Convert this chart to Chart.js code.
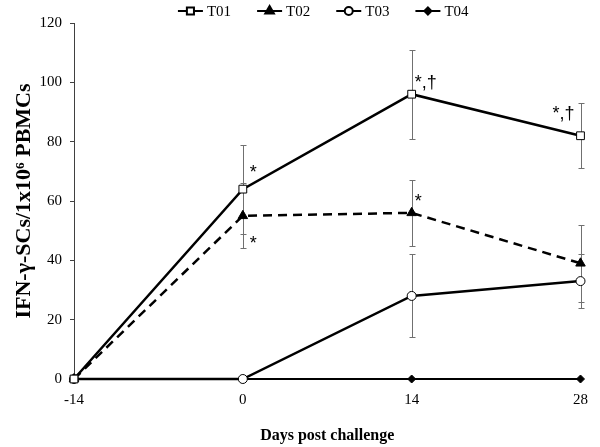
<!DOCTYPE html>
<html>
<head>
<meta charset="utf-8">
<script src="https://cdn.jsdelivr.net/npm/chart.js@4/dist/chart.umd.min.js"></script>
<style>
  html, body { margin: 0; padding: 0; background: #fff; }
  #wrap { width: 600px; height: 447px; }
</style>
</head>
<body>
<div id="wrap"><canvas id="chart"></canvas></div>
<script>
'use strict';

// Days post challenge
const days = [-14, 0, 14, 28];
const dayTicks = [-14, 0, 14, 28];

// IFN-gamma SCs per 1x10^6 PBMCs (means)
const t01 = [0, 64, 96, 82];
const t02 = [0, 55, 56, 39];
const t03 = [0, 0, 28, 33];
const t04 = [0, 0, 0, 0];

// Error bars (+/-), 0 = no bar
const t01Err = [0, 15, 15, 11];
const t02Err = [0, 11, 11, 13];
const t03Err = [0, 0, 14, 9];
const t04Err = [0, 0, 0, 0];

// Significance marks: which series / which day / text / where
const markSeries = [0, 1, 0, 1, 0];
const markDays = [0, 0, 14, 14, 28];
const markText = ['*', '*', '*,\u2020', '*', '*,\u2020'];
const markPlace = ['above', 'below', 'beside', 'beside', 'left'];

const serif = '"Liberation Serif", "Times New Roman", serif';
const sans = '"Liberation Sans", Arial, sans-serif';

function toPoints(values) {
    return values.map((v, i) => ({x: days[i], y: v}));
}

// grey error bars, drawn under the lines
const errorBarPlugin = {
    id: 'errorBars',
    beforeDatasetsDraw(chart) {
        const {ctx, scales: {x, y}} = chart;
        ctx.save();
        ctx.strokeStyle = '#707070';
        ctx.lineWidth = 1;
        chart.data.datasets.forEach((ds) => {
            ds.errors.forEach((e, i) => {
                if (!e) return;
                const px = Math.round(x.getPixelForValue(ds.data[i].x)) + 0.5;
                const top = Math.round(y.getPixelForValue(ds.data[i].y + e)) + 0.5;
                const bot = Math.round(y.getPixelForValue(ds.data[i].y - e)) + 0.5;
                ctx.beginPath();
                ctx.moveTo(px, top); ctx.lineTo(px, bot);
                ctx.moveTo(px - 3, top); ctx.lineTo(px + 3, top);
                ctx.moveTo(px - 3, bot); ctx.lineTo(px + 3, bot);
                ctx.stroke();
            });
        });
        ctx.restore();
    }
};

// the * and dagger marks next to points
const markPlugin = {
    id: 'marks',
    afterDatasetsDraw(chart) {
        const {ctx, scales: {x, y}} = chart;
        const offsets = {
            above: {dx: 7, dy: -11, align: 'left'},
            below: {dx: 7, dy: 33, align: 'left'},
            beside: {dx: 3, dy: -6, align: 'left'},
            left: {dx: -6, dy: -17, align: 'right'}
        };
        ctx.save();
        ctx.fillStyle = '#000';
        ctx.font = '18px ' + sans;
        ctx.textBaseline = 'alphabetic';
        markText.forEach((txt, i) => {
            const ds = chart.data.datasets[markSeries[i]];
            const idx = days.indexOf(markDays[i]);
            const o = offsets[markPlace[i]];
            ctx.textAlign = o.align;
            ctx.fillText(txt, x.getPixelForValue(days[idx]) + o.dx, y.getPixelForValue(ds.data[idx].y) + o.dy);
        });
        ctx.restore();
    }
};

// legend with a short line + marker for each series
const legendPlugin = {
    id: 'lineLegend',
    afterDraw(chart) {
        const ctx = chart.ctx;
        const area = chart.chartArea;
        const sets = chart.data.datasets;
        const symW = 25, gapIn = 4, gapOut = 26;
        ctx.save();
        ctx.font = '15px ' + serif;
        let total = 0;
        sets.forEach((ds, i) => {
            total += symW + gapIn + ctx.measureText(ds.label).width + (i < sets.length - 1 ? gapOut : 0);
        });
        let lx = (area.left + area.right) / 2 - 4 - total / 2;
        const ly = 11;
        sets.forEach((ds) => {
            ctx.setLineDash([]);
            ctx.strokeStyle = '#000';
            ctx.lineWidth = 2;
            ctx.beginPath();
            ctx.moveTo(lx, ly); ctx.lineTo(lx + symW, ly);
            ctx.stroke();
            ctx.fillStyle = ds.pointBackgroundColor;
            ctx.strokeStyle = '#000';
            Chart.helpers.drawPoint(ctx, {
                pointStyle: ds.pointStyle, radius: ds.pointRadius - 0.5, borderWidth: 1, rotation: 0
            }, lx + symW / 2, ly);
            ctx.fillStyle = '#000';
            ctx.textAlign = 'left';
            ctx.textBaseline = 'middle';
            ctx.fillText(ds.label, lx + symW + gapIn, ly + 1);
            lx += symW + gapIn + ctx.measureText(ds.label).width + gapOut;
        });
        ctx.restore();
    }
};

const ctx = document.getElementById('chart').getContext('2d');
const chart = new Chart(ctx, {
    type: 'line',
    data: {
        datasets: [{
            label: 'T01',
            data: toPoints(t01),
            errors: t01Err,
            borderColor: '#000',
            borderWidth: 2.5,
            pointStyle: 'rect',
            pointRadius: 5.5,
            pointBackgroundColor: '#fff',
            pointBorderColor: '#000',
            pointBorderWidth: 1,
            clip: false
        }, {
            label: 'T02',
            data: toPoints(t02),
            errors: t02Err,
            borderColor: '#000',
            borderWidth: 2.5,
            borderDash: [9, 6],
            pointStyle: 'triangle',
            pointRadius: 5.5,
            pointBackgroundColor: '#000',
            pointBorderColor: '#000',
            pointBorderWidth: 1,
            clip: false
        }, {
            label: 'T03',
            data: toPoints(t03),
            errors: t03Err,
            borderColor: '#000',
            borderWidth: 2.5,
            pointStyle: 'circle',
            pointRadius: 4.5,
            pointBackgroundColor: '#fff',
            pointBorderColor: '#000',
            pointBorderWidth: 1,
            clip: false
        }, {
            label: 'T04',
            data: toPoints(t04),
            errors: t04Err,
            borderColor: '#000',
            borderWidth: 2,
            pointStyle: 'rectRot',
            pointRadius: 4,
            pointBackgroundColor: '#000',
            pointBorderColor: '#000',
            pointBorderWidth: 1,
            clip: false
        }]
    },
    options: {
        responsive: true,
        maintainAspectRatio: false,
        animation: false,
        layout: {padding: {top: 23, right: 12, left: 0, bottom: 0}},
        plugins: {
            legend: {display: false},
            tooltip: {enabled: false}
        },
        scales: {
            x: {
                type: 'linear',
                min: -14,
                max: 28,
                afterBuildTicks: (s) => { s.ticks = dayTicks.map(v => ({value: v})); },
                afterFit: (s) => { s.height = 68; },
                grid: {display: true, drawOnChartArea: false, drawTicks: false},
                border: {display: true, color: '#404040', width: 1},
                ticks: {font: {family: serif, size: 15}, color: '#000', padding: 12, maxRotation: 0},
                title: {
                    display: true,
                    text: 'Days post challenge',
                    font: {family: serif, size: 16, weight: 'bold'},
                    color: '#000',
                    padding: {top: 0, bottom: 2}
                }
            },
            y: {
                min: 0,
                max: 120,
                afterFit: (s) => { s.width = 74; },
                grid: {display: true, drawOnChartArea: false, drawTicks: true, tickLength: 4, color: '#404040'},
                border: {display: true, color: '#404040', width: 1},
                ticks: {stepSize: 20, font: {family: serif, size: 15}, color: '#000', padding: 8},
                title: {
                    display: true,
                    text: 'IFN-\u03b3-SCs/1x10\u2076 PBMCs',
                    font: {family: serif, size: 22, weight: 'bold'},
                    color: '#000',
                    padding: {top: 11, bottom: 0}
                }
            }
        }
    },
    plugins: [errorBarPlugin, markPlugin, legendPlugin]
});
</script>
</body>
</html>
